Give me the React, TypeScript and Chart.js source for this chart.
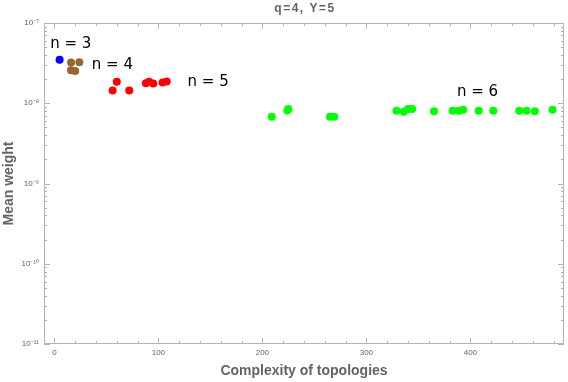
import React, { useEffect, useRef } from "react";
import { Chart, registerables } from "chart.js";

Chart.register(...registerables);

// Data (complexity x, mean weight y)
const n3X = [5];
const n3Y = [3.48e-8];
const n4X = [16, 24, 16, 20];
const n4Y = [3.22e-8, 3.25e-8, 2.58e-8, 2.52e-8];
const n5X = [56, 60, 72, 88, 91, 95, 104, 108];
const n5Y = [1.44e-8, 1.85e-8, 1.44e-8, 1.78e-8, 1.85e-8, 1.76e-8, 1.81e-8, 1.86e-8];
const n6X = [209, 225, 224, 265, 269, 329, 336, 340, 344, 365, 383, 389, 393, 408, 422, 447, 454, 462, 479];
const n6Y = [6.8e-9, 8.45e-9, 8.15e-9, 6.8e-9, 6.8e-9, 8.08e-9, 7.85e-9, 8.5e-9, 8.5e-9, 7.95e-9, 8.08e-9, 8.08e-9, 8.32e-9, 8.08e-9, 8.08e-9, 8.08e-9, 8.08e-9, 7.95e-9, 8.32e-9];

const seriesColors = ["#0000ff", "#996633", "#ff0000", "#00ff00"];

// Labels placed in data coordinates
const labelTexts = ["n = 3", "n = 4", "n = 5", "n = 6"];
const labelX = [-4, 36, 128, 387];
const labelY = [5.4e-8, 2.95e-8, 1.84e-8, 1.36e-8];

// Axis ticks
const xMajorTicks = [0, 100, 200, 300, 400];
const xMinorStep = 20;
const yMajorTicks = [1e-11, 1e-10, 1e-9, 1e-8, 1e-7];
const yTickLabels = ["10\u207B\u00B9\u00B9", "10\u207B\u00B9\u2070", "10\u207B\u2079", "10\u207B\u2078", "10\u207B\u2077"];

const titleText = "q=4, Y=5";
const xTitle = "Complexity of topologies";
const yTitle = "Mean weight";

const gray = "#b4b4b4";
const textGray = "#646464";

const toPts = (xs: number[], ys: number[]) => xs.map((x, i) => ({ x, y: ys[i] }));

const framePlugin = {
  id: "frameDecor",
  afterDraw(chart: any) {
    const { ctx, chartArea: a, scales } = chart;
    const xs = scales.x;
    const ys = scales.y;
    ctx.save();
    ctx.strokeStyle = gray;
    ctx.lineWidth = 1;
    ctx.strokeRect(a.left + 0.5, a.top + 0.5, a.right - a.left - 1, a.bottom - a.top - 1);
    ctx.beginPath();
    // x ticks
    for (let v = -20; v <= 500; v += xMinorStep) {
      const px = Math.round(xs.getPixelForValue(v)) + 0.5;
      if (px < a.left || px > a.right) continue;
      const major = xMajorTicks.includes(v);
      const len = major ? 6 : 3;
      ctx.moveTo(px, a.bottom);
      ctx.lineTo(px, a.bottom - len);
      ctx.moveTo(px, a.top);
      ctx.lineTo(px, a.top + len);
    }
    // y ticks
    for (let e = -11; e <= -7; e++) {
      for (let m = 1; m <= 9; m++) {
        const v = m * Math.pow(10, e);
        if (v > 1.0001e-7) continue;
        const py = Math.round(ys.getPixelForValue(v)) + 0.5;
        if (py < a.top - 1 || py > a.bottom + 1) continue;
        const len = m === 1 ? 6 : 3;
        ctx.moveTo(a.left, py);
        ctx.lineTo(a.left + len, py);
        ctx.moveTo(a.right, py);
        ctx.lineTo(a.right - len, py);
      }
    }
    ctx.stroke();

    // labels n = k
    ctx.fillStyle = "#000";
    ctx.font = "15px 'DejaVu Sans'";
    ctx.textAlign = "left";
    ctx.textBaseline = "middle";
    labelTexts.forEach((t, i) => {
      ctx.fillText(t, xs.getPixelForValue(labelX[i]), ys.getPixelForValue(labelY[i]));
    });

    // titles
    ctx.fillStyle = textGray;
    ctx.textAlign = "center";
    ctx.font = "bold 12px 'Liberation Sans'";
    (ctx as any).letterSpacing = "1.5px";
    ctx.fillText(titleText, (a.left + a.right) / 2 + 1, 9);
    (ctx as any).letterSpacing = "0px";
    ctx.font = "bold 14px 'Liberation Sans'";
    ctx.fillText(xTitle, (a.left + a.right) / 2, 371);
    ctx.translate(9, (a.top + a.bottom) / 2);
    ctx.rotate(-Math.PI / 2);
    ctx.fillText(yTitle, 0, 0);
    ctx.restore();
  },
};

export default function App() {
  const ref = useRef<HTMLCanvasElement>(null);
  useEffect(() => {
    document.body.style.margin = "0";
    const mk = (xs: number[], ys: number[], c: string) => ({
      data: toPts(xs, ys),
      backgroundColor: c,
      borderColor: c,
      pointRadius: 4,
      borderWidth: 0,
    });
    const chart = new Chart(ref.current!, {
      type: "scatter",
      data: {
        datasets: [
          mk(n3X, n3Y, seriesColors[0]),
          mk(n4X, n4Y, seriesColors[1]),
          mk(n5X, n5Y, seriesColors[2]),
          mk(n6X, n6Y, seriesColors[3]),
        ],
      },
      options: {
        animation: false,
        responsive: false,
        layout: { padding: { top: 23, right: 4, left: 0, bottom: 0 } },
        plugins: { legend: { display: false }, tooltip: { enabled: false }, title: { display: false } },
        scales: {
          x: {
            type: "linear",
            min: -10,
            max: 490,
            grid: { display: false, drawTicks: false },
            border: { display: false },
            ticks: {
              padding: 4,
              color: textGray,
              font: { size: 8, family: "'Liberation Sans'" },
              maxRotation: 0,
            },
            afterBuildTicks: (s: any) => {
              s.ticks = xMajorTicks.map((v) => ({ value: v }));
            },
            afterFit: (s: any) => {
              s.height = 38;
            },
          },
          y: {
            type: "logarithmic",
            min: 1e-11,
            max: 1e-7,
            grid: { display: false, drawTicks: false },
            border: { display: false },
            ticks: {
              padding: 5,
              color: textGray,
              font: { size: 8, family: "'Liberation Sans'" },
              callback: (v: any) => {
                const i = yMajorTicks.findIndex((t) => Math.abs(t - v) / t < 1e-6);
                return i >= 0 ? yTickLabels[i] : "";
              },
            },
            afterBuildTicks: (s: any) => {
              s.ticks = yMajorTicks.map((v) => ({ value: v }));
            },
            afterFit: (s: any) => {
              s.width = 44;
            },
          },
        },
      },
      plugins: [framePlugin],
    });
    return () => chart.destroy();
  }, []);
  return <canvas ref={ref} width={568} height={382} style={{ display: "block" }} />;
}
